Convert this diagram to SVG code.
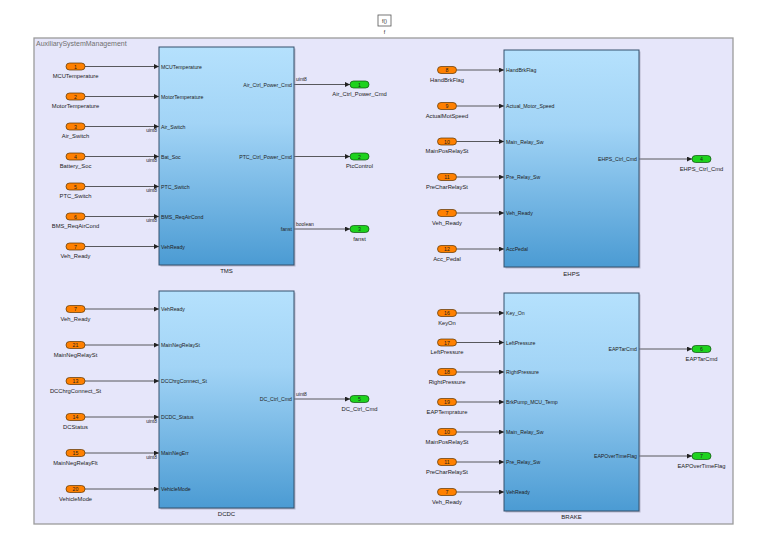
<svg xmlns="http://www.w3.org/2000/svg" width="757" height="541" viewBox="0 0 757 541">
<defs>
<linearGradient id="blk" x1="0" y1="0" x2="0" y2="1">
<stop offset="0" stop-color="#b5e1fd"/>
<stop offset="0.35" stop-color="#a2d4f6"/>
<stop offset="1" stop-color="#4b9bd3"/>
</linearGradient>
<marker id="ah" markerUnits="userSpaceOnUse" markerWidth="5" markerHeight="5" refX="5" refY="2.5" orient="auto">
<path d="M0,0 L5,2.5 L0,5 z" fill="#222"/>
</marker>
</defs>
<style>
text{font-family:"Liberation Sans",Arial,sans-serif;fill:#222}
.frame{fill:#e6e6fa;stroke:#9b9b9b;stroke-width:1.3}
.ftitle{font-size:7px;fill:#707070}
.blk{fill:url(#blk);stroke:#34506c;stroke-width:1}
.shd{fill:#8a8aa0;opacity:0.5}
.btitle{font-size:6px;text-anchor:middle}
.pin{font-size:5.2px}
.pout{font-size:5.2px;text-anchor:end}
.dt{font-size:5px}
.dtr{font-size:5px;text-anchor:end}
.inp{fill:#ff8000;stroke:#5a3300;stroke-width:0.7}
.outp{fill:#1ed21e;stroke:#0c4d0c;stroke-width:0.7}
.num{font-size:5.2px;text-anchor:middle}
.lbl{font-size:5.8px;text-anchor:middle}
.wire{stroke:#333;stroke-width:0.8;fill:none;marker-end:url(#ah)}
</style>
<rect width="757" height="541" fill="#fff"/>

<g id="fcn">
<rect x="378" y="15" width="13" height="11" fill="#fff" stroke="#555" stroke-width="0.8"/>
<text x="384.5" y="22.5" class="num">f()</text>
<text x="384.5" y="34" class="num">f</text>
</g>

<g id="AuxiliarySystemManagement">
<rect x="34" y="38" width="699" height="486" class="frame"/>
<text x="36" y="45.5" class="ftitle">AuxiliarySystemManagement</text>
</g>

<g id="connectors">
<line x1="85" y1="66.5" x2="159" y2="66.5" class="wire"/>
<line x1="85" y1="96.5" x2="159" y2="96.5" class="wire"/>
<line x1="85" y1="126.5" x2="159" y2="126.5" class="wire"/>
<line x1="85" y1="156.5" x2="159" y2="156.5" class="wire"/>
<line x1="85" y1="186.5" x2="159" y2="186.5" class="wire"/>
<line x1="85" y1="216.5" x2="159" y2="216.5" class="wire"/>
<line x1="85" y1="246.5" x2="159" y2="246.5" class="wire"/>
<line x1="294" y1="84.5" x2="350" y2="84.5" class="wire"/>
<line x1="294" y1="156.5" x2="350" y2="156.5" class="wire"/>
<line x1="294" y1="229" x2="350" y2="229" class="wire"/>

<line x1="85" y1="309" x2="159" y2="309" class="wire"/>
<line x1="85" y1="345" x2="159" y2="345" class="wire"/>
<line x1="85" y1="381" x2="159" y2="381" class="wire"/>
<line x1="85" y1="417" x2="159" y2="417" class="wire"/>
<line x1="85" y1="453" x2="159" y2="453" class="wire"/>
<line x1="85" y1="489" x2="159" y2="489" class="wire"/>
<line x1="294" y1="399" x2="350" y2="399" class="wire"/>

<line x1="456.5" y1="70" x2="504" y2="70" class="wire"/>
<line x1="456.5" y1="106" x2="504" y2="106" class="wire"/>
<line x1="456.5" y1="141.5" x2="504" y2="141.5" class="wire"/>
<line x1="456.5" y1="177" x2="504" y2="177" class="wire"/>
<line x1="456.5" y1="213" x2="504" y2="213" class="wire"/>
<line x1="456.5" y1="249" x2="504" y2="249" class="wire"/>
<line x1="639" y1="159" x2="692" y2="159" class="wire"/>

<line x1="456.5" y1="313" x2="504" y2="313" class="wire"/>
<line x1="456.5" y1="342.5" x2="504" y2="342.5" class="wire"/>
<line x1="456.5" y1="372" x2="504" y2="372" class="wire"/>
<line x1="456.5" y1="402" x2="504" y2="402" class="wire"/>
<line x1="456.5" y1="432" x2="504" y2="432" class="wire"/>
<line x1="456.5" y1="462" x2="504" y2="462" class="wire"/>
<line x1="456.5" y1="492" x2="504" y2="492" class="wire"/>
<line x1="639" y1="349" x2="692" y2="349" class="wire"/>
<line x1="639" y1="456" x2="692" y2="456" class="wire"/>

<text x="157" y="132" class="dtr">uint8</text>
<text x="157" y="162" class="dtr">uint8</text>
<text x="157" y="192" class="dtr">uint8</text>
<text x="157" y="222" class="dtr">uint8</text>
<text x="296" y="81" class="dt">uint8</text>
<text x="296" y="225.5" class="dt">boolean</text>
<text x="157" y="422.5" class="dtr">uint8</text>
<text x="157" y="458.5" class="dtr">uint8</text>
<text x="296" y="395.5" class="dt">uint8</text>
</g>

<g id="TMS">
<rect x="160.5" y="48.5" width="135" height="218" class="shd"/>
<rect x="159" y="47" width="135" height="218" class="blk"/>
<text x="161" y="68.5" class="pin">MCUTemperature</text>
<text x="161" y="98.5" class="pin">MotorTemperature</text>
<text x="161" y="128.5" class="pin">Air_Switch</text>
<text x="161" y="158.5" class="pin">Bat_Soc</text>
<text x="161" y="188.5" class="pin">PTC_Switch</text>
<text x="161" y="218.5" class="pin">BMS_ReqAirCond</text>
<text x="161" y="248.5" class="pin">VehReady</text>
<text x="292" y="86.5" class="pout">Air_Ctrl_Power_Cmd</text>
<text x="292" y="158.5" class="pout">PTC_Ctrl_Power_Cmd</text>
<text x="292" y="231" class="pout">fanst</text>
<text x="226.5" y="273" class="btitle">TMS</text>
</g>

<g id="DCDC">
<rect x="160.5" y="292.5" width="135" height="217" class="shd"/>
<rect x="159" y="291" width="135" height="217" class="blk"/>
<text x="161" y="311" class="pin">VehReady</text>
<text x="161" y="347" class="pin">MainNegRelaySt</text>
<text x="161" y="383" class="pin">DCChrgConnect_St</text>
<text x="161" y="419" class="pin">DCDC_Status</text>
<text x="161" y="455" class="pin">MainNegErr</text>
<text x="161" y="491" class="pin">VehicleMode</text>
<text x="292" y="401" class="pout">DC_Ctrl_Cmd</text>
<text x="226.5" y="516" class="btitle">DCDC</text>
</g>

<g id="EHPS">
<rect x="505.5" y="51.5" width="135" height="217" class="shd"/>
<rect x="504" y="50" width="135" height="217" class="blk"/>
<text x="506" y="72" class="pin">HandBrkFlag</text>
<text x="506" y="108" class="pin">Actual_Motor_Speed</text>
<text x="506" y="143.5" class="pin">Main_Relay_Sw</text>
<text x="506" y="179" class="pin">Pre_Relay_Sw</text>
<text x="506" y="215" class="pin">Veh_Ready</text>
<text x="506" y="251" class="pin">AccPedal</text>
<text x="637" y="161" class="pout">EHPS_Ctrl_Cmd</text>
<text x="571.5" y="276" class="btitle">EHPS</text>
</g>

<g id="BRAKE">
<rect x="505.5" y="294.5" width="135" height="218" class="shd"/>
<rect x="504" y="293" width="135" height="218" class="blk"/>
<text x="506" y="315" class="pin">Key_On</text>
<text x="506" y="344.5" class="pin">LeftPressure</text>
<text x="506" y="374" class="pin">RightPressure</text>
<text x="506" y="404" class="pin">BrkPump_MCU_Temp</text>
<text x="506" y="434" class="pin">Main_Relay_Sw</text>
<text x="506" y="464" class="pin">Pre_Relay_Sw</text>
<text x="506" y="494" class="pin">VehReady</text>
<text x="637" y="351" class="pout">EAPTarCmd</text>
<text x="637" y="458" class="pout">EAPOverTimeFlag</text>
<text x="571.5" y="519" class="btitle">BRAKE</text>
</g>

<g id="in_MCUTemperature"><rect x="66" y="63" width="19" height="7" rx="3.5" class="inp"/><text x="75.5" y="68.5" class="num">1</text><text x="75.5" y="78" class="lbl">MCUTemperature</text></g>
<g id="in_MotorTemperature"><rect x="66" y="93" width="19" height="7" rx="3.5" class="inp"/><text x="75.5" y="98.5" class="num">2</text><text x="75.5" y="108" class="lbl">MotorTemperature</text></g>
<g id="in_Air_Switch"><rect x="66" y="123" width="19" height="7" rx="3.5" class="inp"/><text x="75.5" y="128.5" class="num">3</text><text x="75.5" y="138" class="lbl">Air_Switch</text></g>
<g id="in_Battery_Soc"><rect x="66" y="153" width="19" height="7" rx="3.5" class="inp"/><text x="75.5" y="158.5" class="num">4</text><text x="75.5" y="168" class="lbl">Battery_Soc</text></g>
<g id="in_PTC_Switch"><rect x="66" y="183" width="19" height="7" rx="3.5" class="inp"/><text x="75.5" y="188.5" class="num">5</text><text x="75.5" y="198" class="lbl">PTC_Switch</text></g>
<g id="in_BMS_ReqAirCond"><rect x="66" y="213" width="19" height="7" rx="3.5" class="inp"/><text x="75.5" y="218.5" class="num">6</text><text x="75.5" y="228" class="lbl">BMS_ReqAirCond</text></g>
<g id="in_Veh_Ready_TMS"><rect x="66" y="243" width="19" height="7" rx="3.5" class="inp"/><text x="75.5" y="248.5" class="num">7</text><text x="75.5" y="258" class="lbl">Veh_Ready</text></g>

<g id="out_Air_Ctrl_Power_Cmd"><rect x="350" y="81" width="19" height="7" rx="3.5" class="outp"/><text x="359.5" y="86.5" class="num">1</text><text x="359.5" y="96" class="lbl">Air_Ctrl_Power_Cmd</text></g>
<g id="out_PtcControl"><rect x="350" y="153" width="19" height="7" rx="3.5" class="outp"/><text x="359.5" y="158.5" class="num">2</text><text x="359.5" y="168" class="lbl">PtcControl</text></g>
<g id="out_fanst"><rect x="350" y="225.5" width="19" height="7" rx="3.5" class="outp"/><text x="359.5" y="231" class="num">3</text><text x="359.5" y="240.5" class="lbl">fanst</text></g>

<g id="in_Veh_Ready_DCDC"><rect x="66" y="305.5" width="19" height="7" rx="3.5" class="inp"/><text x="75.5" y="311" class="num">7</text><text x="75.5" y="320.5" class="lbl">Veh_Ready</text></g>
<g id="in_MainNegRelaySt"><rect x="66" y="341.5" width="19" height="7" rx="3.5" class="inp"/><text x="75.5" y="347" class="num">21</text><text x="75.5" y="356.5" class="lbl">MainNegRelaySt</text></g>
<g id="in_DCChrgConnect_St"><rect x="66" y="377.5" width="19" height="7" rx="3.5" class="inp"/><text x="75.5" y="383" class="num">13</text><text x="75.5" y="392.5" class="lbl">DCChrgConnect_St</text></g>
<g id="in_DCStatus"><rect x="66" y="413.5" width="19" height="7" rx="3.5" class="inp"/><text x="75.5" y="419" class="num">14</text><text x="75.5" y="428.5" class="lbl">DCStatus</text></g>
<g id="in_MainNegRelayFlt"><rect x="66" y="449.5" width="19" height="7" rx="3.5" class="inp"/><text x="75.5" y="455" class="num">15</text><text x="75.5" y="464.5" class="lbl">MainNegRelayFlt</text></g>
<g id="in_VehicleMode"><rect x="66" y="485.5" width="19" height="7" rx="3.5" class="inp"/><text x="75.5" y="491" class="num">20</text><text x="75.5" y="500.5" class="lbl">VehicleMode</text></g>
<g id="out_DC_Ctrl_Cmd"><rect x="350" y="395.5" width="19" height="7" rx="3.5" class="outp"/><text x="359.5" y="401" class="num">5</text><text x="359.5" y="410.5" class="lbl">DC_Ctrl_Cmd</text></g>

<g id="in_HandBrkFlag"><rect x="437.5" y="66.5" width="19" height="7" rx="3.5" class="inp"/><text x="447" y="72" class="num">8</text><text x="447" y="81.5" class="lbl">HandBrkFlag</text></g>
<g id="in_ActualMotSpeed"><rect x="437.5" y="102.5" width="19" height="7" rx="3.5" class="inp"/><text x="447" y="108" class="num">9</text><text x="447" y="117.5" class="lbl">ActualMotSpeed</text></g>
<g id="in_MainPosRelaySt_EHPS"><rect x="437.5" y="138" width="19" height="7" rx="3.5" class="inp"/><text x="447" y="143.5" class="num">10</text><text x="447" y="153" class="lbl">MainPosRelaySt</text></g>
<g id="in_PreCharRelaySt_EHPS"><rect x="437.5" y="173.5" width="19" height="7" rx="3.5" class="inp"/><text x="447" y="179" class="num">11</text><text x="447" y="188.5" class="lbl">PreCharRelaySt</text></g>
<g id="in_Veh_Ready_EHPS"><rect x="437.5" y="209.5" width="19" height="7" rx="3.5" class="inp"/><text x="447" y="215" class="num">7</text><text x="447" y="224.5" class="lbl">Veh_Ready</text></g>
<g id="in_Acc_Pedal"><rect x="437.5" y="245.5" width="19" height="7" rx="3.5" class="inp"/><text x="447" y="251" class="num">12</text><text x="447" y="260.5" class="lbl">Acc_Pedal</text></g>
<g id="out_EHPS_Ctrl_Cmd"><rect x="692" y="155.5" width="19" height="7" rx="3.5" class="outp"/><text x="701.5" y="161" class="num">4</text><text x="701.5" y="170.5" class="lbl">EHPS_Ctrl_Cmd</text></g>

<g id="in_KeyOn"><rect x="437.5" y="309.5" width="19" height="7" rx="3.5" class="inp"/><text x="447" y="315" class="num">16</text><text x="447" y="324.5" class="lbl">KeyOn</text></g>
<g id="in_LeftPressure"><rect x="437.5" y="339" width="19" height="7" rx="3.5" class="inp"/><text x="447" y="344.5" class="num">17</text><text x="447" y="354" class="lbl">LeftPressure</text></g>
<g id="in_RightPressure"><rect x="437.5" y="368.5" width="19" height="7" rx="3.5" class="inp"/><text x="447" y="374" class="num">18</text><text x="447" y="383.5" class="lbl">RightPressure</text></g>
<g id="in_EAPTemprature"><rect x="437.5" y="398.5" width="19" height="7" rx="3.5" class="inp"/><text x="447" y="404" class="num">19</text><text x="447" y="413.5" class="lbl">EAPTemprature</text></g>
<g id="in_MainPosRelaySt_BRAKE"><rect x="437.5" y="428.5" width="19" height="7" rx="3.5" class="inp"/><text x="447" y="434" class="num">10</text><text x="447" y="443.5" class="lbl">MainPosRelaySt</text></g>
<g id="in_PreCharRelaySt_BRAKE"><rect x="437.5" y="458.5" width="19" height="7" rx="3.5" class="inp"/><text x="447" y="464" class="num">11</text><text x="447" y="473.5" class="lbl">PreCharRelaySt</text></g>
<g id="in_Veh_Ready_BRAKE"><rect x="437.5" y="488.5" width="19" height="7" rx="3.5" class="inp"/><text x="447" y="494" class="num">7</text><text x="447" y="503.5" class="lbl">Veh_Ready</text></g>
<g id="out_EAPTarCmd"><rect x="692" y="345.5" width="19" height="7" rx="3.5" class="outp"/><text x="701.5" y="351" class="num">6</text><text x="701.5" y="360.5" class="lbl">EAPTarCmd</text></g>
<g id="out_EAPOverTimeFlag"><rect x="692" y="452.5" width="19" height="7" rx="3.5" class="outp"/><text x="701.5" y="458" class="num">7</text><text x="701.5" y="467.5" class="lbl">EAPOverTimeFlag</text></g>
</svg>
